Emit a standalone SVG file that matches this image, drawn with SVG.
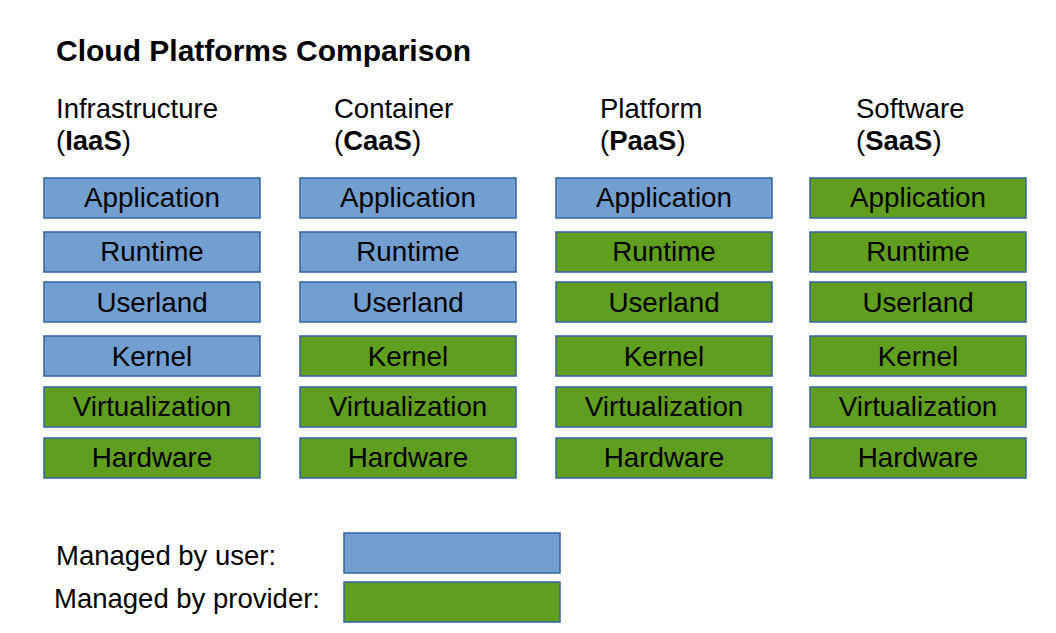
<svg xmlns="http://www.w3.org/2000/svg" width="1056" height="633" viewBox="0 0 1056 633">
<style>
text{font-family:"Liberation Sans",Arial,sans-serif;fill:#000}
.t{font-size:30px;font-weight:bold}
.h{font-size:27.5px}
.l{font-size:27.8px;text-anchor:middle}
.u{fill:#729fcf;stroke:#3465a4;stroke-width:1.5}
.p{fill:#609e1f;stroke:#3465a4;stroke-width:1.5}
</style>
<rect width="1056" height="633" fill="#fff"/>
<text class="t" x="56" y="61">Cloud Platforms Comparison</text>
<g id="headers">
<text class="h" x="56" y="118">Infrastructure</text>
<text class="h" x="56" y="150">(<tspan font-weight="bold">IaaS</tspan>)</text>
<text class="h" x="334" y="118">Container</text>
<text class="h" x="334" y="150">(<tspan font-weight="bold">CaaS</tspan>)</text>
<text class="h" x="600" y="118">Platform</text>
<text class="h" x="600" y="150">(<tspan font-weight="bold">PaaS</tspan>)</text>
<text class="h" x="856" y="118">Software</text>
<text class="h" x="856" y="150">(<tspan font-weight="bold">SaaS</tspan>)</text>
</g>
<g id="iaas">
<rect class="u" x="44" y="178" width="216" height="40"/><text class="l" x="152" y="207">Application</text>
<rect class="u" x="44" y="232" width="216" height="40"/><text class="l" x="152" y="261">Runtime</text>
<rect class="u" x="44" y="282" width="216" height="40"/><text class="l" x="152" y="312">Userland</text>
<rect class="u" x="44" y="336" width="216" height="40"/><text class="l" x="152" y="366">Kernel</text>
<rect class="p" x="44" y="387" width="216" height="40"/><text class="l" x="152" y="416">Virtualization</text>
<rect class="p" x="44" y="438" width="216" height="40"/><text class="l" x="152" y="467">Hardware</text>
</g>
<g id="caas">
<rect class="u" x="300" y="178" width="216" height="40"/><text class="l" x="408" y="207">Application</text>
<rect class="u" x="300" y="232" width="216" height="40"/><text class="l" x="408" y="261">Runtime</text>
<rect class="u" x="300" y="282" width="216" height="40"/><text class="l" x="408" y="312">Userland</text>
<rect class="p" x="300" y="336" width="216" height="40"/><text class="l" x="408" y="366">Kernel</text>
<rect class="p" x="300" y="387" width="216" height="40"/><text class="l" x="408" y="416">Virtualization</text>
<rect class="p" x="300" y="438" width="216" height="40"/><text class="l" x="408" y="467">Hardware</text>
</g>
<g id="paas">
<rect class="u" x="556" y="178" width="216" height="40"/><text class="l" x="664" y="207">Application</text>
<rect class="p" x="556" y="232" width="216" height="40"/><text class="l" x="664" y="261">Runtime</text>
<rect class="p" x="556" y="282" width="216" height="40"/><text class="l" x="664" y="312">Userland</text>
<rect class="p" x="556" y="336" width="216" height="40"/><text class="l" x="664" y="366">Kernel</text>
<rect class="p" x="556" y="387" width="216" height="40"/><text class="l" x="664" y="416">Virtualization</text>
<rect class="p" x="556" y="438" width="216" height="40"/><text class="l" x="664" y="467">Hardware</text>
</g>
<g id="saas">
<rect class="p" x="810" y="178" width="216" height="40"/><text class="l" x="918" y="207">Application</text>
<rect class="p" x="810" y="232" width="216" height="40"/><text class="l" x="918" y="261">Runtime</text>
<rect class="p" x="810" y="282" width="216" height="40"/><text class="l" x="918" y="312">Userland</text>
<rect class="p" x="810" y="336" width="216" height="40"/><text class="l" x="918" y="366">Kernel</text>
<rect class="p" x="810" y="387" width="216" height="40"/><text class="l" x="918" y="416">Virtualization</text>
<rect class="p" x="810" y="438" width="216" height="40"/><text class="l" x="918" y="467">Hardware</text>
</g>
<g id="legend">
<text class="h" x="56" y="565">Managed by user:</text>
<rect class="u" x="344" y="533" width="216" height="40"/>
<text class="h" x="54" y="608">Managed by provider:</text>
<rect class="p" x="344" y="582" width="216" height="40"/>
</g>
</svg>
